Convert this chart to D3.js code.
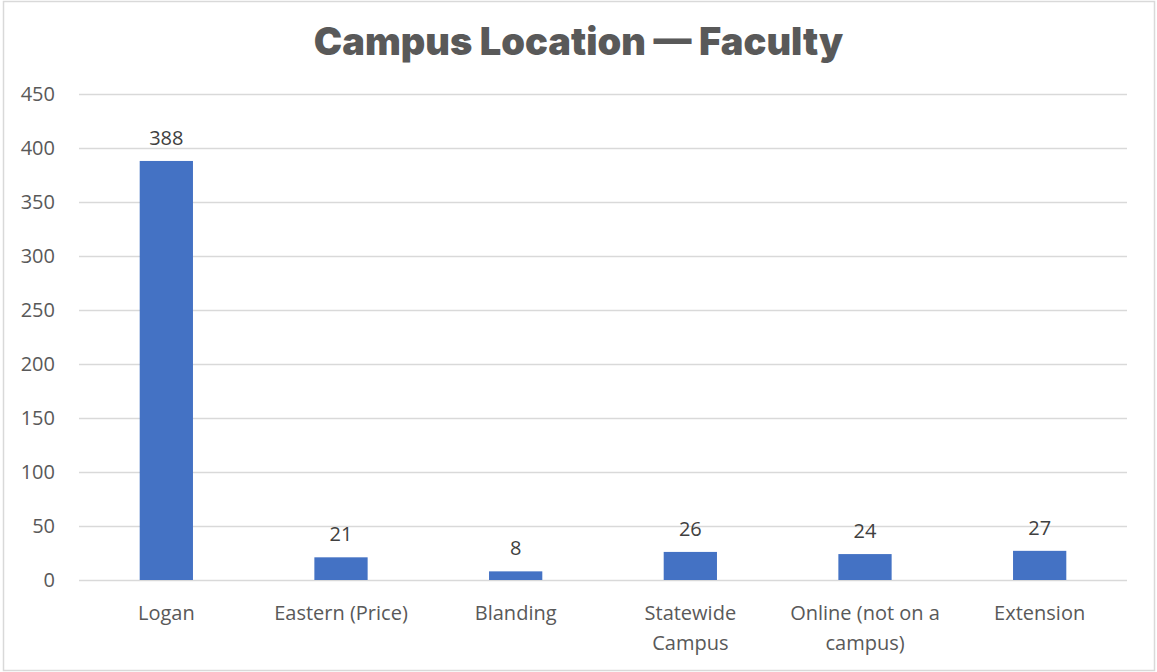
<!DOCTYPE html>
<html>
<head>
<meta charset="utf-8">
<script src="https://cdn.jsdelivr.net/npm/d3@7"></script>
<style>
  body { margin: 0; background: #fff; }
  svg text { font-family: "Open Sans", "Noto Sans", sans-serif; }
</style>
</head>
<body>
<div id="chart"></div>
<script>
// data
var categories = ["Logan", "Eastern (Price)", "Blanding", "Statewide Campus", "Online (not on a campus)", "Extension"];
var counts = [388, 21, 8, 26, 24, 27];
var yTicks = [0, 50, 100, 150, 200, 250, 300, 350, 400, 450];
var chartTitle = "Campus Location \u2014 Faculty";

var svgWidth = 1157;
var svgHeight = 672;
var margin = { top: 94, right: 30, bottom: 92, left: 79 };
var width = 1127 - margin.left;
var height = 580 - margin.top;

var svg = d3.select("#chart")
  .append("svg")
  .attr("width", svgWidth)
  .attr("height", svgHeight);

// outer border
svg.append("rect")
  .attr("x", 3.5)
  .attr("y", 1.5)
  .attr("width", svgWidth - 6)
  .attr("height", svgHeight - 3)
  .attr("fill", "#fff")
  .attr("stroke", "#d9d9d9")
  .attr("stroke-width", 1.5);

svg.append("text")
  .attr("x", svgWidth / 2)
  .attr("y", 55)
  .attr("text-anchor", "middle")
  .style("font-family", "Inter, 'Open Sans', sans-serif")
  .style("font-weight", 900)
  .style("font-size", "38px")
  .attr("fill", "#595959")
  .text(chartTitle);

var chartGroup = svg.append("g")
  .attr("transform", `translate(${margin.left}, ${margin.top})`);

var xScale = d3.scaleBand()
  .domain(categories)
  .range([0, width])
  .padding(0);

var yScale = d3.scaleLinear()
  .domain([0, 450])
  .range([height, 0]);

// gridlines
chartGroup.selectAll(".grid")
  .data(yTicks)
  .enter()
  .append("line")
  .attr("class", "grid")
  .attr("x1", 0)
  .attr("x2", width)
  .attr("y1", d => Math.round(yScale(d)) + 0.5)
  .attr("y2", d => Math.round(yScale(d)) + 0.5)
  .attr("stroke", "#d9d9d9")
  .attr("stroke-width", 1.5);

// y axis labels
var leftAxis = d3.axisLeft(yScale).tickValues(yTicks).tickSize(0).tickPadding(24);
var yAxis = chartGroup.append("g").call(leftAxis);
yAxis.select(".domain").remove();
yAxis.selectAll("text")
  .style("font-size", "20px")
  .attr("fill", "#595959");

// bars
var barW = xScale.bandwidth() * 0.305;
chartGroup.selectAll(".bar")
  .data(counts)
  .enter()
  .append("rect")
  .attr("class", "bar")
  .attr("x", (d, i) => xScale(categories[i]) + xScale.bandwidth() / 2 - barW / 2)
  .attr("y", d => yScale(d))
  .attr("width", barW)
  .attr("height", d => height - yScale(d))
  .attr("fill", "#4472c4");

// value labels
chartGroup.selectAll(".val")
  .data(counts)
  .enter()
  .append("text")
  .attr("class", "val")
  .attr("x", (d, i) => xScale(categories[i]) + xScale.bandwidth() / 2)
  .attr("y", d => yScale(d) - 16)
  .attr("text-anchor", "middle")
  .style("font-size", "20px")
  .attr("fill", "#404040")
  .text(d => d);

// x labels, wrapped
var bottomAxis = d3.axisBottom(xScale).tickSize(0).tickPadding(0);
var xAxis = chartGroup.append("g")
  .attr("transform", `translate(0, ${height})`)
  .call(bottomAxis);
xAxis.select(".domain").remove();
xAxis.selectAll("text")
  .style("font-size", "20px")
  .attr("fill", "#595959")
  .attr("y", 0)
  .attr("dy", null)
  .each(function(d) {
    var t = d3.select(this);
    var words = d.split(" ");
    t.text(null);
    var line = [];
    var lineNo = 0;
    var tspan = t.append("tspan").attr("x", 0).attr("y", 40);
    words.forEach(function(w) {
      line.push(w);
      tspan.text(line.join(" "));
      if (tspan.node().getComputedTextLength() > 160 && line.length > 1) {
        line.pop();
        tspan.text(line.join(" "));
        line = [w];
        lineNo++;
        tspan = t.append("tspan").attr("x", 0).attr("y", 40 + lineNo * 30).text(w);
      }
    });
  });
</script>
</body>
</html>
